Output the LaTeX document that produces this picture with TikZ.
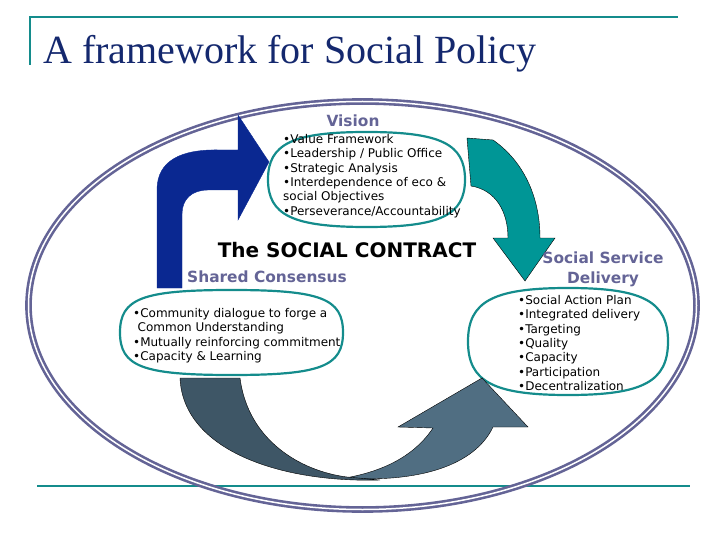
\documentclass[tikz,border=0pt]{standalone}
\usepackage{fontspec}
\setmainfont{DejaVu Sans}
\newfontfamily\titlefont{Liberation Serif}
\usepackage{xcolor}

\definecolor{frameteal}{RGB}{20,140,140}
\definecolor{ringslate}{RGB}{100,100,150}
\definecolor{titleblue}{RGB}{20,40,110}
\definecolor{visionblue}{RGB}{10,40,145}
\definecolor{deliveryteal}{RGB}{0,150,150}
\definecolor{backslate}{RGB}{62,86,102}
\definecolor{returnslate}{RGB}{80,110,130}

\begin{document}
\begin{tikzpicture}[x=1pt,y=1pt,yscale=-1,xscale=1,
  bubble/.style={draw=frameteal,line width=2.2pt},
  heading/.style={text=ringslate,font=\bfseries\fontsize{15.4}{20}\selectfont,inner sep=0pt},
  bullets/.style={align=left,anchor=north west,inner sep=0pt,font=\fontsize{12}{14.4}\selectfont},
  bent/.style={line width=0.4pt}]
\useasboundingbox (0,0) rectangle (720,540);

%Straight Lines [title frame]
\draw [frameteal,line width=2pt] (30,65) -- (30,17) -- (678,17) ;
%Straight Lines [bottom rule]
\draw [frameteal,line width=2pt] (37,486) -- (690,486) ;

%Shape: Ellipse [outer ring]
\draw [ringslate,line width=2.6pt,double=white,double distance=1.5pt] (362.5,305.5) ellipse [x radius=334,y radius=204] ;

%Shape: Oval [vision bubble]
\draw [bubble] (268,179.5) .. controls (268,143.9) and (292.6,132) .. (366.5,132) .. controls (440.4,132) and (465,143.9) .. (465,179.5) .. controls (465,215.1) and (440.4,227) .. (366.5,227) .. controls (292.6,227) and (268,215.1) .. cycle ;
%Shape: Oval [consensus bubble]
\draw [bubble] (120,332.5) .. controls (120,298.5) and (142.3,290) .. (231.5,290) .. controls (320.7,290) and (343,298.5) .. (343,332.5) .. controls (343,366.5) and (320.7,375) .. (231.5,375) .. controls (142.3,375) and (120,366.5) .. cycle ;
%Shape: Oval [delivery bubble]
\draw [bubble] (468,341.5) .. controls (468,301.4) and (493,288) .. (568,288) .. controls (643,288) and (668,301.4) .. (668,341.5) .. controls (668,381.6) and (643,395) .. (568,395) .. controls (493,395) and (468,381.6) .. cycle ;

%Shape: Bent Arrow [up to vision]
\draw [bent,visionblue,fill=visionblue] (157,288) -- (157,190) .. controls (157,160) and (182,149) .. (220,150) -- (238,150) -- (238,115) -- (269,162) -- (238,220) -- (238,190) -- (208,190) .. controls (192,190) and (182,199) .. (182,214) -- (182,288) -- cycle ;
%Shape: Curved Arrow [down to delivery]
\draw [bent,black,fill=deliveryteal] (467,138) -- (493,140) .. controls (522,160) and (540,195) .. (540,238) -- (555,238) -- (525,281) -- (493,238) -- (508,238) .. controls (508,212) and (496,190) .. (471,186) -- cycle ;
%Shape: Curved Arrow [return to delivery]
\draw [bent,black,fill=returnslate] (345,478) .. controls (420,483) and (475,465) .. (493,427) -- (528,427) -- (482,378) -- (398,427) -- (433,428) .. controls (415,455) and (385,471) .. (345,478) -- cycle ;
%Shape: Curved Arrow [back from consensus]
\draw [bent,black,fill=backslate] (180,378) -- (240,378) .. controls (248,440) and (300,471) .. (347,477) -- (380,480) .. controls (280,483) and (183,450) .. (180,378) -- cycle ;

% Text Node
\node [anchor=base west,inner sep=0pt,text=titleblue,font=\titlefont\fontsize{40}{44}\selectfont] (title) at (43,64) {A framework for Social Policy};
% Text Node
\node [heading] (vision) at (353,121) {Vision};
% Text Node
\node [bullets] (visionlist) at (283,134) {•Value Framework\\•Leadership / Public Office\\•Strategic Analysis\\•Interdependence of eco \&\\social Objectives\\•Perseverance/Accountability};
% Text Node
\node [inner sep=0pt,font=\bfseries\fontsize{20}{24}\selectfont] (contract) at (347,250) {The SOCIAL CONTRACT};
% Text Node
\node [heading] (consensus) at (267,277) {Shared Consensus};
% Text Node
\node [bullets] (consensuslist) at (133,308) {•Community dialogue to forge a\\\hspace{4.5pt}Common Understanding\\•Mutually reinforcing commitment\\•Capacity \& Learning};
% Text Node
\node [heading,align=center] (delivery) at (603,269) {Social Service\\Delivery};
% Text Node
\node [bullets] (deliverylist) at (518,295) {•Social Action Plan\\•Integrated delivery\\•Targeting\\•Quality\\•Capacity\\•Participation\\•Decentralization};

\end{tikzpicture}
\end{document}
